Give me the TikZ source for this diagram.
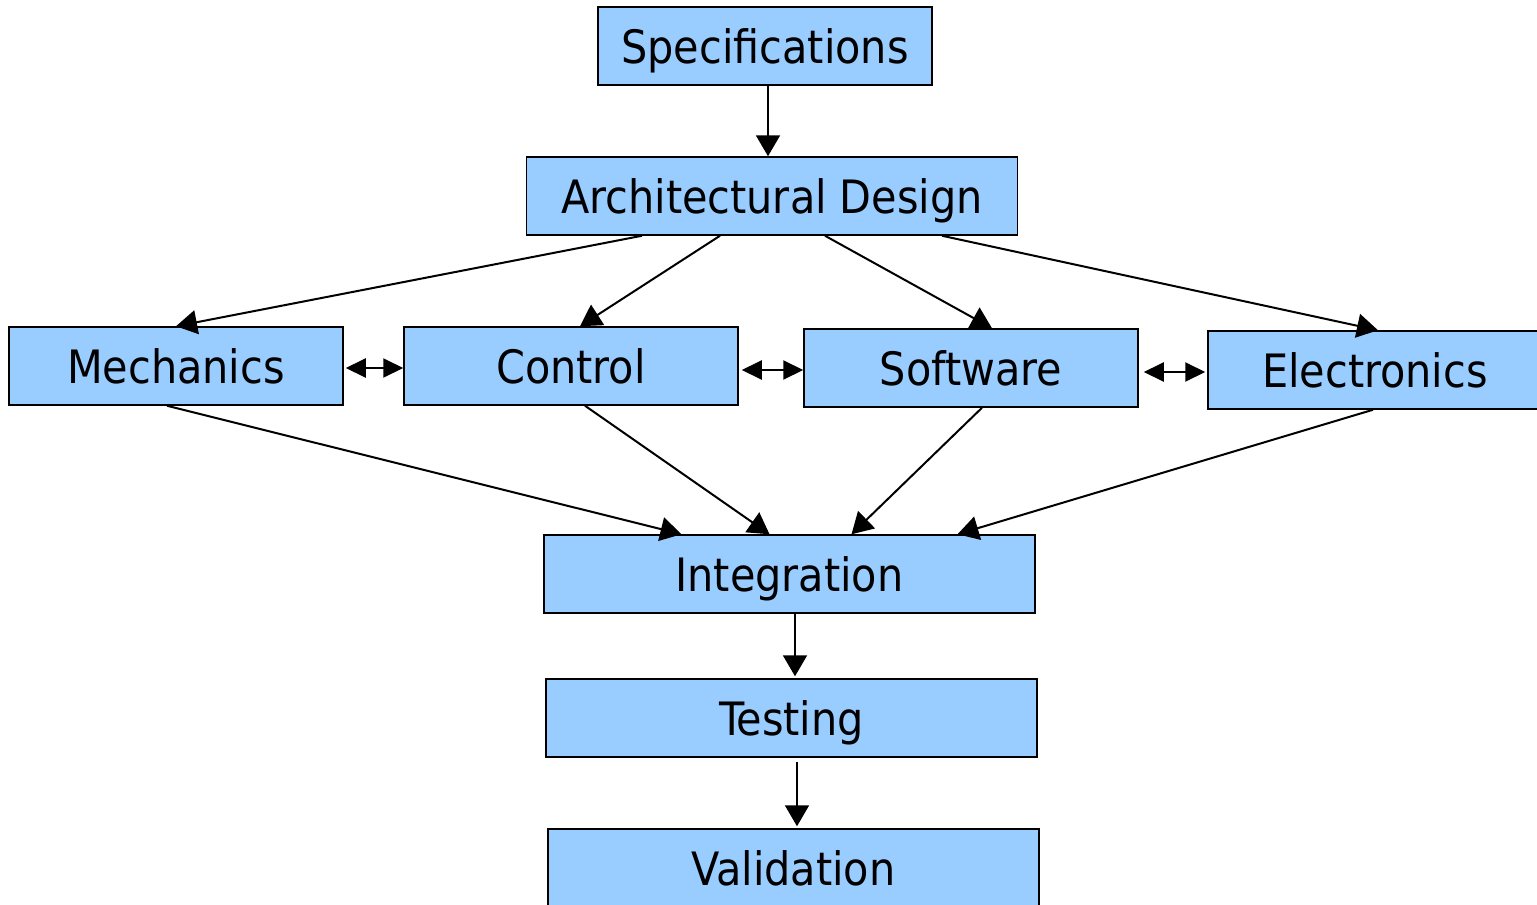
\documentclass[tikz,border=0pt]{standalone}
\usepackage{fontspec}
\usepackage{tikz}
\usetikzlibrary{arrows.meta}
\newfontfamily\boxfont{DejaVu Sans Condensed}
\definecolor{boxblue}{RGB}{153,204,255}
\tikzset{
	stage/.style={draw=black, fill=boxblue, line width=1.5pt, minimum height=78pt,
		inner sep=0pt, text height=34pt, text depth=0pt,
		font=\boxfont\fontsize{46}{54}\selectfont},
	narrow/.style={stage, minimum width=334pt},
	wide/.style={stage, minimum width=491pt},
	flow/.style={-{Triangle[length=21pt,width=24pt]}, line width=2pt},
	link/.style={{Triangle[length=20pt,width=19pt]}-{Triangle[length=20pt,width=19pt]}, line width=2pt}
}

\begin{document}
\begin{tikzpicture}[x=1pt, y=-1pt]
	\useasboundingbox (0,0) rectangle (1537,905);
	% boxes
	\node [narrow] (spec) at (765,46) {Specifications};
	\node [wide] (arch) at (772,196) {Architectural Design};
	\node [narrow] (mech) at (176,366) {Mechanics};
	\node [narrow] (ctrl) at (571,366) {Control};
	\node [narrow] (soft) at (971,368) {Software};
	\node [narrow] (elec) at (1375,370) {Electronics};
	\node [wide] (integ) at (789.5,574) {Integration};
	\node [wide] (test) at (791.5,718) {Testing};
	\node [wide] (valid) at (793.5,868) {Validation};
	% arrows
	\draw [flow] ([xshift=3pt]spec.south) -- ([xshift=-4pt]arch.north);
	\draw [flow] ([xshift=-130pt]arch.south) -- (mech.north);
	\draw [flow] ([xshift=-52pt]arch.south) -- ([xshift=9pt]ctrl.north);
	\draw [flow] ([xshift=53pt]arch.south) -- ([xshift=21pt]soft.north);
	\draw [flow] ([xshift=170pt]arch.south) -- ([xshift=3pt]elec.north);
	\draw [link] ([xshift=2pt, yshift=-2pt]mech.east) -- ([yshift=-2pt]ctrl.west);
	\draw [link] ([xshift=3pt, yshift=-4pt]ctrl.east) -- ([yshift=-2pt]soft.west);
	\draw [link] ([xshift=5pt, yshift=-4pt]soft.east) -- ([xshift=-2pt, yshift=-2pt]elec.west);
	\draw [flow] ([xshift=-9pt]mech.south) -- ([xshift=-108pt]integ.north);
	\draw [flow] ([xshift=14pt]ctrl.south) -- ([xshift=-20pt]integ.north);
	\draw [flow] ([xshift=11pt]soft.south) -- ([xshift=62pt]integ.north);
	\draw [flow] ([xshift=-2pt]elec.south) -- ([xshift=168pt]integ.north);
	\draw [flow] ([xshift=5.5pt]integ.south) -- ([xshift=3.5pt, yshift=2pt]test.north);
	\draw [flow] ([xshift=5.5pt, yshift=-4pt]test.south) -- ([xshift=3.5pt, yshift=2pt]valid.north);
\end{tikzpicture}
\end{document}
